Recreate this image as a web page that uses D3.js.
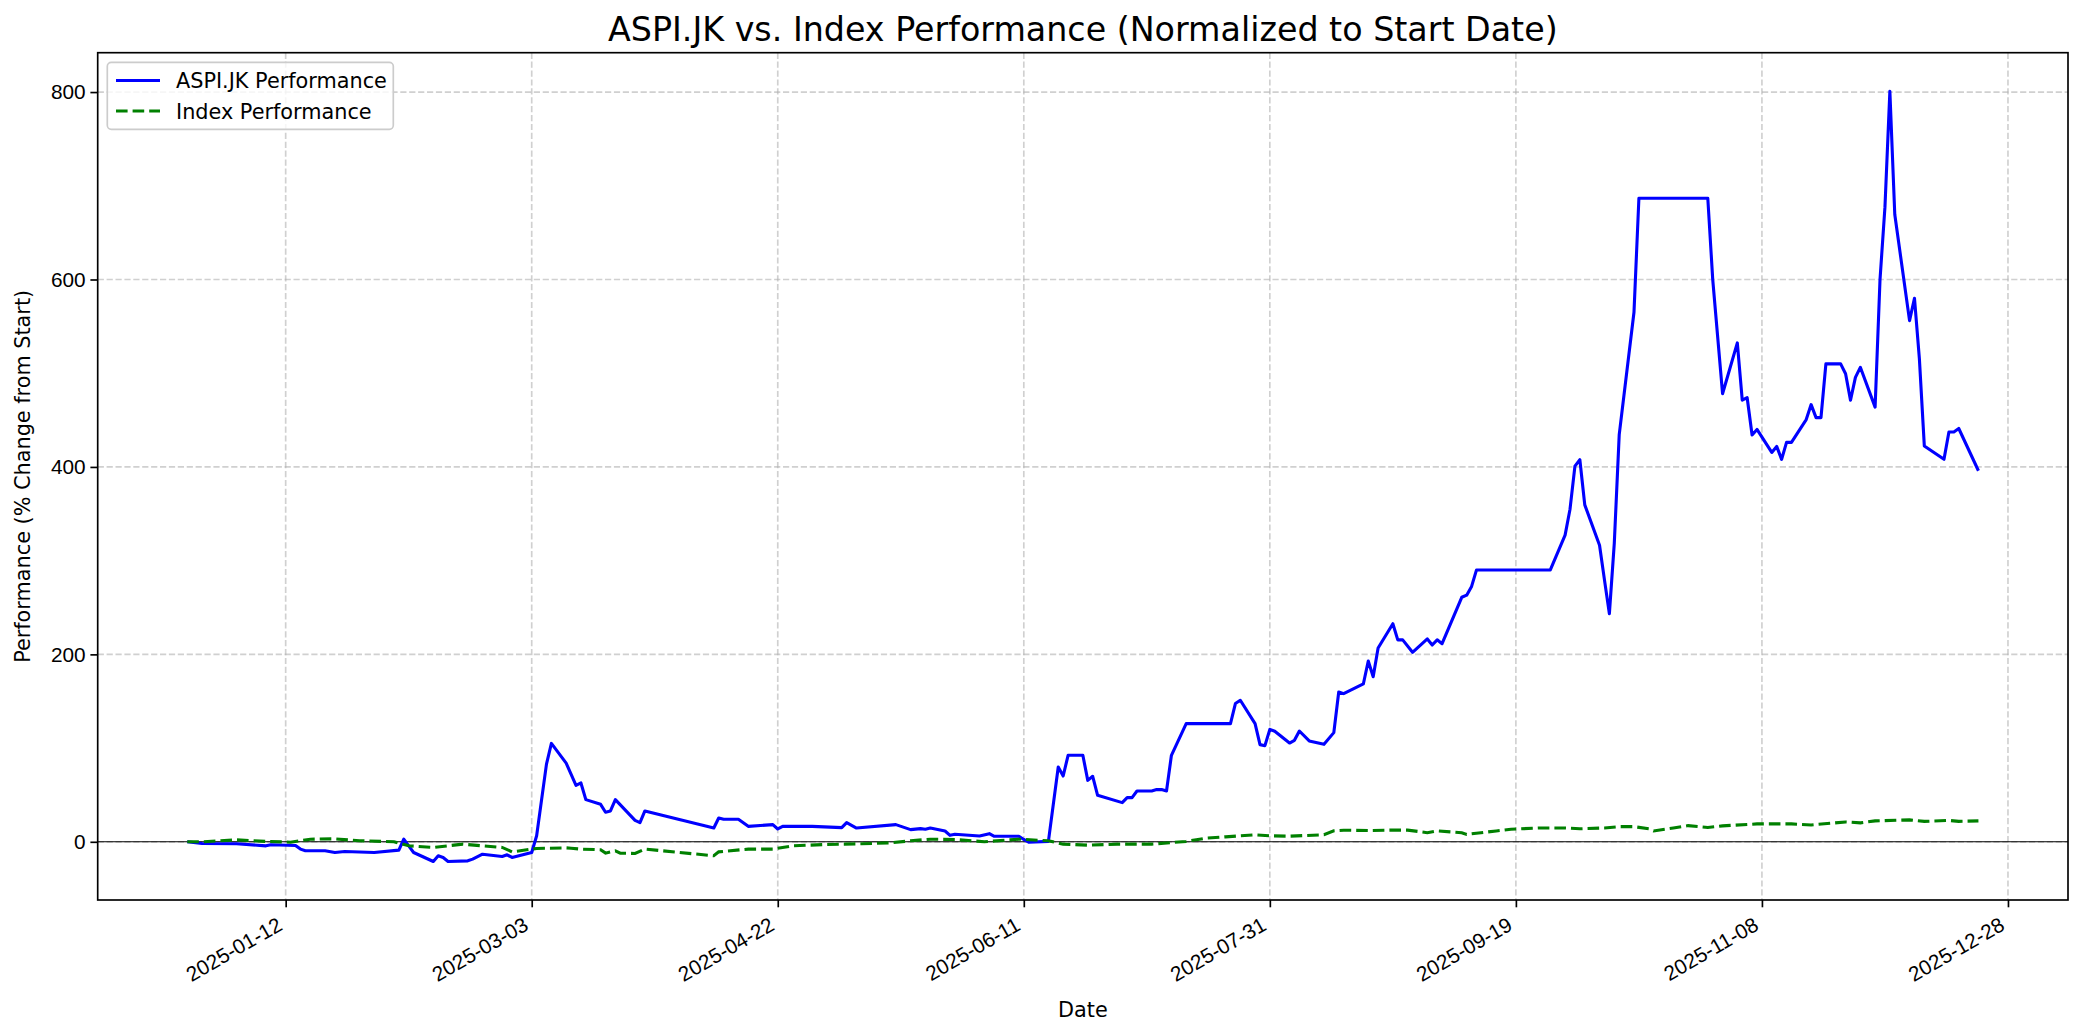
<!DOCTYPE html>
<html>
<head>
<meta charset="utf-8">
<script src="https://cdn.jsdelivr.net/npm/d3@7"></script>
<style>
  html, body { margin: 0; padding: 0; background: #ffffff; }
  svg { display: block; font-family: "DejaVu Sans", sans-serif; }
</style>
</head>
<body>
<svg id="chart" width="2084" height="1035"></svg>
<script>
// ---------------- data ----------------
const chartTitle = "ASPI.JK vs. Index Performance (Normalized to Start Date)";
const xLabel = "Date";
const yLabel = "Performance (% Change from Start)";
const seriesNames = ["ASPI.JK Performance", "Index Performance"];

const aspiDates = [
  "2024-12-23","2024-12-26","2025-01-02","2025-01-08","2025-01-09","2025-01-14","2025-01-15","2025-01-16",
  "2025-01-20","2025-01-22","2025-01-24","2025-01-30","2025-02-04","2025-02-05","2025-02-06","2025-02-07",
  "2025-02-11","2025-02-12","2025-02-13","2025-02-14","2025-02-18","2025-02-19","2025-02-21","2025-02-25",
  "2025-02-26","2025-02-27","2025-03-03","2025-03-04","2025-03-06","2025-03-07","2025-03-10","2025-03-12",
  "2025-03-13","2025-03-14","2025-03-17","2025-03-18","2025-03-19","2025-03-20","2025-03-24","2025-03-25",
  "2025-03-26","2025-04-09","2025-04-10","2025-04-11","2025-04-14","2025-04-16","2025-04-21","2025-04-22",
  "2025-04-23","2025-04-29","2025-05-05","2025-05-06","2025-05-08","2025-05-16","2025-05-19","2025-05-21",
  "2025-05-22","2025-05-23","2025-05-26","2025-05-27","2025-05-28","2025-06-02","2025-06-04","2025-06-05",
  "2025-06-10","2025-06-11","2025-06-12","2025-06-16","2025-06-18","2025-06-19","2025-06-20","2025-06-23",
  "2025-06-24","2025-06-25","2025-06-26","2025-07-01","2025-07-02","2025-07-03","2025-07-04","2025-07-07",
  "2025-07-08","2025-07-09","2025-07-10","2025-07-11","2025-07-14","2025-07-23","2025-07-24","2025-07-25",
  "2025-07-28","2025-07-29","2025-07-30","2025-07-31","2025-08-01","2025-08-04","2025-08-05","2025-08-06",
  "2025-08-08","2025-08-11","2025-08-13","2025-08-14","2025-08-15","2025-08-19","2025-08-20","2025-08-21",
  "2025-08-22","2025-08-25","2025-08-26","2025-08-27","2025-08-29","2025-09-01","2025-09-02","2025-09-03",
  "2025-09-04","2025-09-08","2025-09-09","2025-09-10","2025-09-11","2025-09-26","2025-09-29","2025-09-30",
  "2025-10-01","2025-10-02","2025-10-03","2025-10-06","2025-10-07","2025-10-08","2025-10-09","2025-10-10",
  "2025-10-13","2025-10-14","2025-10-28","2025-10-29","2025-10-31","2025-11-03","2025-11-04","2025-11-05",
  "2025-11-06","2025-11-07","2025-11-10","2025-11-11","2025-11-12","2025-11-13","2025-11-14","2025-11-17",
  "2025-11-18","2025-11-19","2025-11-20","2025-11-21","2025-11-24","2025-11-25","2025-11-26","2025-11-27",
  "2025-11-28","2025-12-01","2025-12-02","2025-12-03","2025-12-04","2025-12-05","2025-12-08","2025-12-09",
  "2025-12-10","2025-12-11","2025-12-15","2025-12-16","2025-12-17","2025-12-18","2025-12-22"
];
const aspiValues = [
  0, -1.8, -2.1, -4.3, -3.2, -3.9, -7.8, -9.6,
  -9.6, -11.4, -10.3, -11.4, -8.9, 2.8, -4.3, -11.4,
  -21.0, -14.9, -16.7, -21.0, -20.3, -18.5, -13.2, -15.6,
  -13.9, -16.7, -11.4, 6.4, 82.9, 105.0, 84.0, 60.3,
  62.8, 45.0, 40.0, 31.5, 32.9, 45.0, 22.9, 20.5,
  32.9, 14.7, 25.4, 24.0, 24.0, 16.5, 18.3, 13.7,
  16.5, 16.5, 15.1, 20.5, 14.7, 18.3, 13.0, 14.1,
  13.4, 14.7, 11.5, 6.9, 8.0, 6.2, 8.7, 5.9,
  5.9, 2.5, -0.5, 0.5, 79.8, 70.2, 92.3, 92.3,
  65.6, 69.9, 49.6, 41.8, 47.1, 47.1, 54.2, 54.2,
  55.7, 55.7, 54.2, 92.3, 126.1, 126.1, 147.5, 151.0,
  126.1, 103.7, 102.6, 120.0, 117.9, 105.4, 108.3, 118.2,
  107.6, 104.0, 116.5, 159.8, 158.1, 168.4, 192.9, 176.2,
  206.8, 232.7, 215.5, 215.5, 202.2, 216.5, 210.0, 215.5,
  211.4, 260.9, 263.2, 272.5, 290.1, 290.1, 327.2, 354.9,
  400.8, 407.7, 359.5, 316.5, 279.5, 243.4, 318.8, 434.5,
  565.1, 686.7, 686.7, 600.2, 478.1, 532.3, 471.2, 473.9,
  434.1, 440.0, 415.5, 421.9, 408.1, 426.2, 426.2, 450.5,
  466.5, 452.6, 452.6, 510.0, 510.0, 499.4, 471.2, 495.6,
  506.3, 463.8, 600.2, 677.2, 800.9, 669.3, 556.1, 580.0,
  515.3, 422.4, 408.1, 437.3, 437.3, 441.0, 395.9
];

const indexDates = [
  "2024-12-23","2024-12-26","2025-01-02","2025-01-08","2025-01-13","2025-01-17","2025-01-22","2025-01-27",
  "2025-02-03","2025-02-06","2025-02-11","2025-02-17","2025-02-21","2025-02-25","2025-02-27","2025-03-04",
  "2025-03-10","2025-03-11","2025-03-13","2025-03-17","2025-03-18","2025-03-20","2025-03-21","2025-03-24",
  "2025-03-26","2025-04-09","2025-04-10","2025-04-16","2025-04-21","2025-04-25","2025-05-02","2025-05-09",
  "2025-05-15","2025-05-19","2025-05-23","2025-05-28","2025-06-03","2025-06-10","2025-06-16","2025-06-19",
  "2025-06-24","2025-06-30","2025-07-07","2025-07-14","2025-07-18","2025-07-22","2025-07-28","2025-07-31",
  "2025-08-04","2025-08-11","2025-08-13","2025-08-15","2025-08-20","2025-08-25","2025-08-28","2025-09-01",
  "2025-09-03","2025-09-08","2025-09-09","2025-09-15","2025-09-18","2025-09-24","2025-09-29","2025-10-02",
  "2025-10-07","2025-10-10","2025-10-13","2025-10-16","2025-10-17","2025-10-21","2025-10-24","2025-10-28",
  "2025-10-31","2025-11-07","2025-11-14","2025-11-18","2025-11-25","2025-11-28","2025-12-01","2025-12-08",
  "2025-12-11","2025-12-16","2025-12-18","2025-12-22"
];
const indexValues = [
  0, 0, 2.1, 0.4, -0.4, 2.8, 3.2, 1.1,
  0, -4.3, -6.0, -2.5, -4.3, -6.0, -10.7, -7.1,
  -6.5, -6.8, -7.8, -8.5, -12.1, -9.6, -12.1, -12.4,
  -7.8, -14.9, -10.7, -7.8, -7.8, -4.3, -2.8, -2.1,
  -1.1, 1.1, 2.8, 2.5, 0, 2.8, 1.1, -2.5,
  -3.6, -2.5, -2.5, 0.4, 3.9, 5.3, 7.5, 6.4,
  6.0, 7.5, 11.7, 12.4, 12.0, 12.5, 12.5, 9.7,
  11.6, 9.7, 7.9, 11.6, 13.4, 14.8, 14.8, 13.9,
  14.8, 16.2, 16.2, 13.9, 11.6, 14.8, 17.3, 15.3,
  17.0, 19.1, 19.1, 18.0, 21.2, 20.2, 22.3, 23.4,
  21.8, 22.8, 21.8, 22.3
];

const yTickValues = [0, 200, 400, 600, 800];
const xTickLabels = ["2025-01-12","2025-03-03","2025-04-22","2025-06-11","2025-07-31","2025-09-19","2025-11-08","2025-12-28"];

// ---------------- layout ----------------
const W = 2084, H = 1035;
const plot = { left: 97.7, right: 2068, top: 52.7, bottom: 900 };

const parse = d3.utcParse("%Y-%m-%d");
const aspi = aspiDates.map((d, i) => ({ date: parse(d), value: aspiValues[i] }));
const index = indexDates.map((d, i) => ({ date: parse(d), value: indexValues[i] }));
const all = aspi.concat(index);

// matplotlib-like 5% margins
const xExt = d3.extent(all, d => +d.date);
const xPad = (xExt[1] - xExt[0]) * 0.05;
const yExt = d3.extent(all, d => d.value);
const yPad = (yExt[1] - yExt[0]) * 0.05;

const x = d3.scaleUtc()
  .domain([new Date(xExt[0] - xPad), new Date(xExt[1] + xPad)])
  .range([plot.left, plot.right]);
const y = d3.scaleLinear()
  .domain([yExt[0] - yPad, yExt[1] + yPad])
  .range([plot.bottom, plot.top]);

const svg = d3.select("#chart");
svg.append("rect").attr("width", W).attr("height", H).attr("fill", "#ffffff");

const xTicks = xTickLabels.map(parse);

// grid
const grid = svg.append("g").attr("class", "grid");
grid.selectAll("line.gx").data(xTicks).join("line")
  .attr("x1", d => x(d)).attr("x2", d => x(d))
  .attr("y1", plot.top).attr("y2", plot.bottom)
  .attr("stroke", "#b0b0b0").attr("stroke-opacity", 0.6)
  .attr("stroke-width", 1.67).attr("stroke-dasharray", "6.2,2.7");
grid.selectAll("line.gy").data(yTickValues).join("line")
  .attr("x1", plot.left).attr("x2", plot.right)
  .attr("y1", d => y(d)).attr("y2", d => y(d))
  .attr("stroke", "#b0b0b0").attr("stroke-opacity", 0.6)
  .attr("stroke-width", 1.67).attr("stroke-dasharray", "6.2,2.7");

// clip
svg.append("clipPath").attr("id", "clip").append("rect")
  .attr("x", plot.left).attr("y", plot.top)
  .attr("width", plot.right - plot.left).attr("height", plot.bottom - plot.top);

const gData = svg.append("g").attr("clip-path", "url(#clip)");

// zero line
gData.append("line")
  .attr("x1", plot.left).attr("x2", plot.right)
  .attr("y1", y(0)).attr("y2", y(0))
  .attr("stroke", "#000000").attr("stroke-width", 1.05);

const line = d3.line().x(d => x(d.date)).y(d => y(d.value));

gData.append("path").datum(aspi)
  .attr("d", line).attr("fill", "none")
  .attr("stroke", "#0000ff").attr("stroke-width", 3.1)
  .attr("stroke-linejoin", "round").attr("stroke-linecap", "butt");

gData.append("path").datum(index)
  .attr("d", line).attr("fill", "none")
  .attr("stroke", "#008000").attr("stroke-width", 3.1)
  .attr("stroke-dasharray", "11.6,5");

// axes
const xAxis = d3.axisBottom(x).tickValues(xTicks).tickSize(7.3).tickPadding(4.8)
  .tickFormat(d3.utcFormat("%Y-%m-%d"));
const gx = svg.append("g").attr("transform", `translate(0,${plot.bottom})`).call(xAxis);
gx.select(".domain").remove();
gx.selectAll(".tick line").attr("stroke", "#000").attr("stroke-width", 1.67);
gx.selectAll(".tick text")
  .attr("font-size", 20.8).attr("fill", "#000")
  .attr("text-anchor", "end")
  .attr("dy", null).attr("y", null)
  .attr("transform", "translate(-2.5,29) rotate(-30)");

const yAxis = d3.axisLeft(y).tickValues(yTickValues).tickSize(7.3).tickPadding(4.8);
const gy = svg.append("g").attr("transform", `translate(${plot.left},0)`).call(yAxis);
gy.select(".domain").remove();
gy.selectAll(".tick line").attr("stroke", "#000").attr("stroke-width", 1.67);
gy.selectAll(".tick text").attr("font-size", 20.8).attr("fill", "#000");

// frame
svg.append("rect")
  .attr("x", plot.left).attr("y", plot.top)
  .attr("width", plot.right - plot.left).attr("height", plot.bottom - plot.top)
  .attr("fill", "none").attr("stroke", "#000").attr("stroke-width", 1.67);

// title & labels
svg.append("text").attr("x", (plot.left + plot.right) / 2).attr("y", 41)
  .attr("text-anchor", "middle").attr("font-size", 33.3).attr("fill", "#000").text(chartTitle);
svg.append("text").attr("x", (plot.left + plot.right) / 2).attr("y", 1017)
  .attr("text-anchor", "middle").attr("font-size", 20.8).attr("fill", "#000").text(xLabel);
svg.append("text")
  .attr("transform", `translate(30,${(plot.top + plot.bottom) / 2}) rotate(-90)`)
  .attr("text-anchor", "middle").attr("font-size", 20.8).attr("fill", "#000").text(yLabel);

// legend
const lg = svg.append("g");
lg.append("rect").attr("x", 107.3).attr("y", 62.3).attr("width", 286).attr("height", 67)
  .attr("rx", 4).attr("fill", "#ffffff").attr("fill-opacity", 0.8)
  .attr("stroke", "#cccccc").attr("stroke-width", 1.67);
const legendItems = [
  { name: seriesNames[0], color: "#0000ff", dash: null },
  { name: seriesNames[1], color: "#008000", dash: "11.6,5" }
];
legendItems.forEach((it, i) => {
  const cy = 80.5 + i * 30.5;
  lg.append("line").attr("x1", 116).attr("x2", 160).attr("y1", cy).attr("y2", cy)
    .attr("stroke", it.color).attr("stroke-width", 3.1)
    .attr("stroke-dasharray", it.dash);
  lg.append("text").attr("x", 176).attr("y", cy + 7.5)
    .attr("font-size", 20.8).attr("fill", "#000").text(it.name);
});
</script>
</body>
</html>
